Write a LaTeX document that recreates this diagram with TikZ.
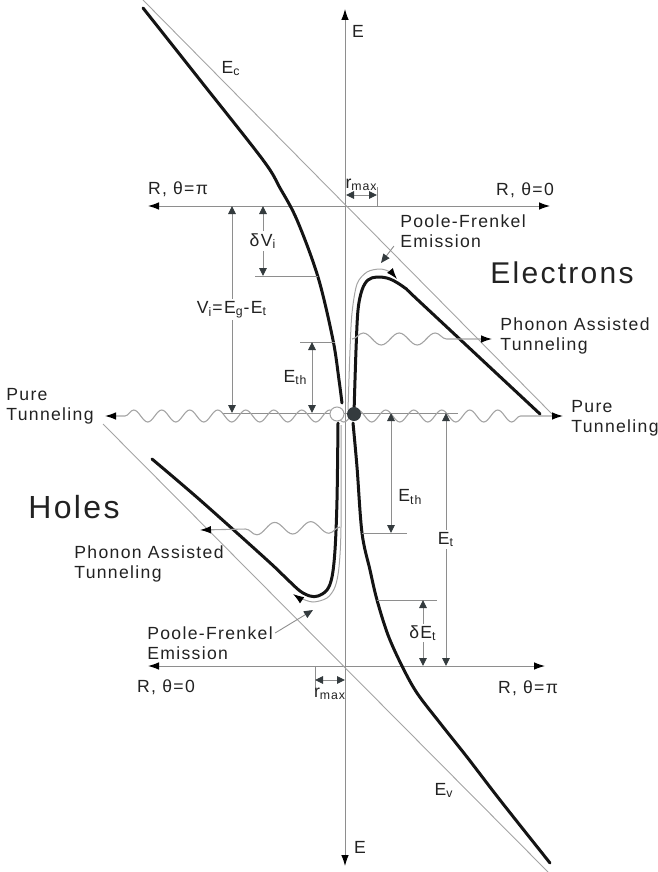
\documentclass[tikz,border=0pt]{standalone}
\usepackage{fontspec}
\setmainfont{Liberation Sans}[LetterSpace=7.5]
\usetikzlibrary{arrows.meta,decorations.pathmorphing,calc}
\definecolor{ink}{HTML}{222222}
\definecolor{axisgray}{HTML}{8E8E8E}
\definecolor{bandgray}{HTML}{A4A4A4}
\definecolor{tipgray}{HTML}{343B3E}

\begin{document}
\begin{tikzpicture}[x=0.5pt,y=-0.5pt,font=\fontsize{8.8}{10.2}\selectfont,text=ink,>={Latex[length=5.5pt,width=3.8pt,color=black]}]
\tikzset{ax/.style={draw=axisgray,line width=0.5pt,<->}, bandedge/.style={draw=bandgray,line width=0.45pt}, band/.style={draw=black!92,line width=1.5pt,line cap=round}, ext/.style={draw=axisgray,line width=0.45pt}, dim/.style={draw=axisgray,line width=0.45pt,{Triangle[length=4pt,width=3.8pt,color=tipgray]}-{Triangle[length=4pt,width=3.8pt,color=tipgray]}}, emit/.style={draw=bandgray,line width=0.5pt,->}, ptr/.style={draw=axisgray,line width=0.45pt,-{Triangle[length=4.5pt,width=3.8pt,color=tipgray]}}, wave/.style={draw=bandgray,line width=0.55pt,decorate}, lbl/.style={inner sep=1pt,align=left}, dimlbl/.style={inner sep=1pt,fill=white}}
\useasboundingbox (0,0) rectangle (658,872);
% axes
\coordinate (Etop) at (345,9); \coordinate (Ebot) at (345,866);
\coordinate (RupL) at (148,206); \coordinate (RupR) at (550,206);
\coordinate (RloL) at (148,666); \coordinate (RloR) at (545,666);
\draw[ax] (Ebot)--(Etop);
\draw[ax] (RupL)--(RupR);
\draw[ax] (RloL)--(RloR);
\node[lbl] (Eup) at (358,31) {E};
\node[lbl] (Edn) at (360,847) {E};
\node[lbl] (RpiU) at (178,189) {R, θ=π};
\node[lbl] (R0U) at (525,190) {R, θ=0};
\node[lbl] (R0L) at (166,687) {R, θ=0};
\node[lbl] (RpiL) at (528,688) {R, θ=π};
% flat band edges
\draw[bandedge] (143,0)--(553,415);
\draw[bandedge] (103,424)--(548,872);
\node[lbl] (Ec) at (231,69) {E\textsubscript{c}};
\node[lbl] (Ev) at (444,790) {E\textsubscript{v}};
% trap level and pure tunneling
\draw[ext] (222,413)--(458,413);
\coordinate (ptLtip) at (105,416); \coordinate (ptRtip) at (563,416);
\draw[wave,<->,decoration={snake,amplitude=3pt,segment length=14pt,pre length=10pt,post length=16.5pt}] (ptLtip)--(ptRtip);
\node[lbl] (ptL) at (50,406) {Pure\\Tunneling};
\node[lbl] (ptR) at (615,418) {Pure\\Tunneling};
% bent bands
\draw[band] plot[smooth,tension=0.55] coordinates {(143,8) (200,80) (263,160) (280,188) (297,220) (318,277) (333,340) (339,380) (342,403)};
\draw[band] plot[smooth,tension=0.55] coordinates {(354,413) (356,350) (358,310) (362,290) (368,280) (377,277) (390,279) (405,288) (420,302) (540,414)};
\draw[band] plot[smooth,tension=0.55] coordinates {(152,459) (200,500) (267,560) (287,579) (300,591) (310,596) (318,596) (327,590) (332,577) (335,550) (337,500) (338,423)};
\draw[band] plot[smooth,tension=0.55] coordinates {(353,423) (357,467) (362,533) (370,570) (377,600) (388,635) (402,666) (417,693) (440,723) (467,757) (500,800) (550,863)};
% emission over the barrier
\draw[emit] plot[smooth] coordinates {(348,410) (350,350) (352,313) (357,284) (367,272) (380,269) (390,272) (397,279)};
\draw[emit] plot[smooth] coordinates {(341,425) (341,527) (339,567) (335,587) (327,598) (313,602) (300,598) (293,594)};
\node[lbl] (pfU) at (463,231) {Poole-Frenkel\\Emission};
\node[lbl] (pfL) at (210,643) {Poole-Frenkel\\Emission};
\coordinate (pfUtip) at (381,263); \coordinate (pfLtip) at (313,610);
\draw[ptr] ([xshift=-2pt,yshift=2pt]pfU.south west)--(pfUtip);
\draw[ptr] ([yshift=5pt]pfL.east)--(pfLtip);
% phonon assisted tunneling
\node[lbl] (phU) at (575,336) {Phonon Assisted\\Tunneling};
\node[lbl] (phL) at (149,564) {Phonon Assisted\\Tunneling};
\coordinate (phUtip) at (492,339); \coordinate (phLtip) at (200,530);
\draw[wave,->,decoration={snake,amplitude=3pt,segment length=18pt,post length=21pt}] (352,339)--(phUtip);
\draw[wave,->,decoration={snake,amplitude=3pt,segment length=18pt,post length=21.5pt}] (340,527)--(phLtip);
% trap states
\node[circle,draw=bandgray,fill=white,line width=0.5pt,minimum size=7pt,inner sep=0pt] (trapo) at (337,414) {};
\node[circle,fill=tipgray,minimum size=7pt,inner sep=0pt] (trap) at (354,414) {};
% energies
\draw[dim] (232,206)--node[dimlbl]{V\textsubscript{i}=E\textsubscript{g}-E\textsubscript{t}} (232,413);
\draw[ext] (255,276)--(318,276);
\draw[dim] (263,206)--node[dimlbl]{δV\textsubscript{i}} (263,276);
\draw[ext] (300,342)--(335,342);
\draw[dim] (312,342)--node[left,inner sep=1pt,xshift=-1pt]{E\textsubscript{th}} (312,413);
\draw[ext] (362,533)--(407,533);
\draw[dim] (391,413)--node[right,pos=0.7,inner sep=1pt,xshift=2.5pt]{E\textsubscript{th}} (391,533);
\draw[dim] (446,413)--node[dimlbl]{E\textsubscript{t}} (446,666);
\draw[ext] (377,600)--(437,600);
\draw[dim] (423,600)--node[dimlbl]{δE\textsubscript{t}} (423,666);
% r_max
\draw[ext] (377,187)--(377,206);
\draw[dim] (346,195)--node[above,inner sep=1pt,yshift=1pt]{r\textsubscript{max}} (377,195);
\draw[ext] (315,666)--(315,690);
\draw[dim] (315,680)--node[below,inner sep=1pt,yshift=-3pt]{r\textsubscript{max}} (345,680);
% carriers
\node[lbl,font=\fontsize{15}{18}\selectfont] (elec) at (562,273) {Electrons};
\node[lbl,font=\fontsize{16}{19}\selectfont] (hole) at (74,507) {Holes};
\end{tikzpicture}
\end{document}
